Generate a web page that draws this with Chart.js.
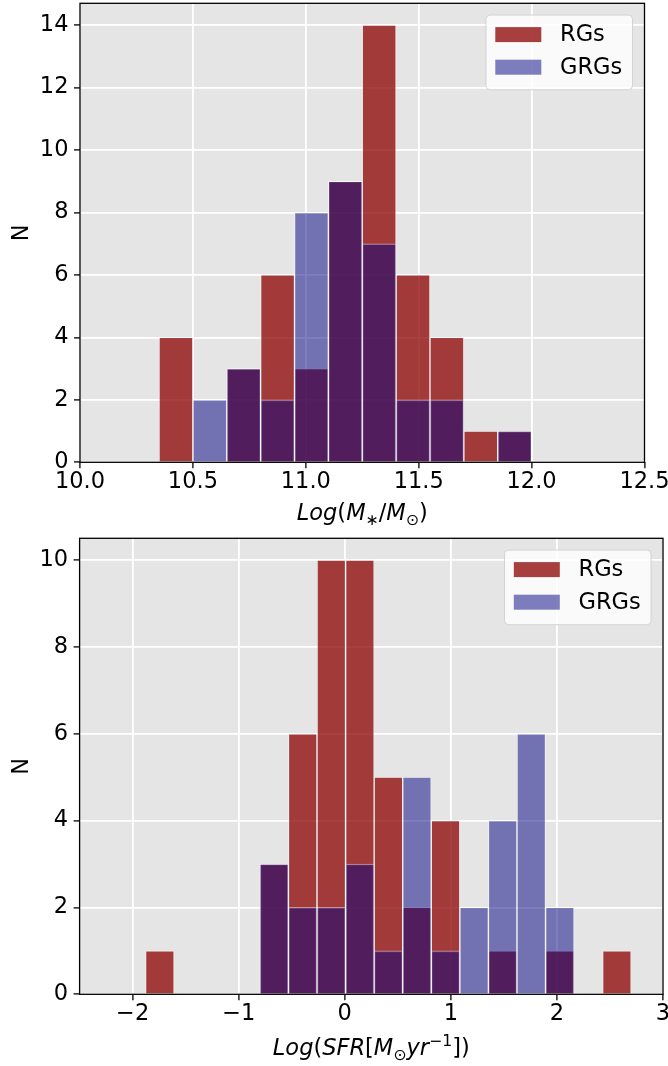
<!DOCTYPE html>
<html><head><meta charset="utf-8">
<script src="https://cdn.jsdelivr.net/npm/chart.js@4/dist/chart.umd.min.js"></script>
<style>
html,body{margin:0;padding:0;background:#fff;width:668px;height:1066px;overflow:hidden}
.wrap{position:absolute;left:0;width:668px}
canvas{display:block}
</style></head><body>
<div class="wrap" style="top:0;height:525px"><canvas id="c1" width="668" height="525"></canvas></div>
<div class="wrap" style="top:525px;height:541px"><canvas id="c2" width="668" height="541"></canvas></div>
<script>
// ---------- data ----------
const seriesNames = ['RGs', 'GRGs'];

const massBinEdges = [10.35, 10.50, 10.65, 10.80, 10.95, 11.10, 11.25, 11.40, 11.55, 11.70, 11.85, 12.00];
const massRGs  = [4, 0, 3, 6, 3, 9, 14, 6, 4, 1, 1];
const massGRGs = [0, 2, 3, 2, 8, 9, 7, 2, 2, 0, 1];
const massXTicks = [10.0, 10.5, 11.0, 11.5, 12.0, 12.5];
const massYTicks = [0, 2, 4, 6, 8, 10, 12, 14];

const sfrBinEdges = [-1.878, -1.609, -1.339, -1.070, -0.801, -0.531, -0.262, 0.008, 0.277,
                     0.546, 0.815, 1.085, 1.354, 1.623, 1.893, 2.162, 2.431, 2.700];
const sfrRGs  = [1, 0, 0, 0, 3, 6, 10, 10, 5, 2, 4, 0, 1, 0, 1, 0, 1];
const sfrGRGs = [0, 0, 0, 0, 3, 2, 2, 3, 1, 5, 1, 2, 4, 6, 2, 0, 0];
const sfrXTicks = [-2, -1, 0, 1, 2, 3];
const sfrYTicks = [0, 2, 4, 6, 8, 10];

const massLabel = [
  {t:'Log', i:1}, {t:'('}, {t:'M', i:1}, {t:'\u2217', sub:1}, {t:'/'}, {t:'M', i:1}, {t:'\u2299', sub:1}, {t:')'}
];
const sfrLabel = [
  {t:'Log', i:1}, {t:'('}, {t:'SFR', i:1}, {t:'['}, {t:'M', i:1}, {t:'\u2299', sub:1},
  {t:'yr', i:1}, {t:'\u22121', sup:1}, {t:']'}, {t:')'}
];

// ---------- styling ----------
const FONT = "'DejaVu Sans', sans-serif";
const FS = 22.5;
const RED = 'rgba(139,0,0,0.75)';
const BLUE = 'rgba(0,0,128,0.5)';

function histData(edges, counts) {
  return counts.map((c, k) => ({x: (edges[k] + edges[k + 1]) / 2, y: c === 0 ? null : c}));
}

const decorPlugin = {
  id: 'decor',
  beforeDraw(chart) {
    const {ctx, chartArea: a} = chart;
    ctx.save();
    ctx.fillStyle = '#e5e5e5';
    ctx.fillRect(a.left, a.top, a.right - a.left, a.bottom - a.top);
    ctx.restore();
  },
  afterDraw(chart, args, opts) {
    const {ctx, chartArea: a} = chart;
    ctx.save();
    // frame
    ctx.strokeStyle = '#000';
    ctx.lineWidth = 1.3;
    ctx.strokeRect(a.left, a.top, a.right - a.left, a.bottom - a.top);
    // legend
    const bw = 146.5, bh = 74.6;
    const bx = a.right - 12 - bw, by = a.top + 11.8;
    const r = 4;
    ctx.beginPath();
    ctx.moveTo(bx + r, by);
    ctx.arcTo(bx + bw, by, bx + bw, by + bh, r);
    ctx.arcTo(bx + bw, by + bh, bx, by + bh, r);
    ctx.arcTo(bx, by + bh, bx, by, r);
    ctx.arcTo(bx, by, bx + bw, by, r);
    ctx.closePath();
    ctx.fillStyle = 'rgba(255,255,255,0.8)';
    ctx.fill();
    ctx.strokeStyle = 'rgba(204,204,204,0.8)';
    ctx.lineWidth = 1;
    ctx.stroke();
    const ds = chart.data.datasets;
    seriesNames.forEach((name, row) => {
      const d = ds.find(q => q.label === name);
      const py = by + 12 + row * 32.6;
      ctx.fillStyle = d.backgroundColor;
      ctx.fillRect(bx + 9.3, py, 46, 15);
      ctx.fillStyle = '#000';
      ctx.font = FS + 'px ' + FONT;
      ctx.textAlign = 'left';
      ctx.textBaseline = 'middle';
      ctx.fillText(d.label, bx + 74, py + 8);
    });
    // x-axis label (math text)
    const segs = opts.xLabel;
    const sm = 0.7;
    const fontFor = s => (s.i ? 'italic ' : '') + ((s.sub || s.sup) ? FS * sm : FS) + 'px ' + FONT;
    let total = 0;
    const widths = segs.map(s => { ctx.font = fontFor(s); const w = ctx.measureText(s.t).width; total += w; return w; });
    let x = (a.left + a.right) / 2 - total / 2;
    const base = opts.xLabelBaseline;
    ctx.fillStyle = '#000';
    ctx.textAlign = 'left';
    ctx.textBaseline = 'alphabetic';
    segs.forEach((s, k) => {
      ctx.font = fontFor(s);
      let y = base;
      if (s.sub) y += FS * 0.2;
      if (s.sup) y -= FS * 0.4;
      ctx.fillText(s.t, x, y);
      x += widths[k];
    });
    ctx.restore();
  }
};

function makeChart(canvasId, edges, rg, grg, xTicks, yTicks, xmin, xmax, ymax, geom, xLabel, fmt) {
  return new Chart(document.getElementById(canvasId), {
    type: 'bar',
    data: {
      datasets: [
        {label: seriesNames[0], data: histData(edges, rg), backgroundColor: RED,
         borderColor: 'rgba(255,255,255,0.45)', borderWidth: 1, order: 2},
        {label: seriesNames[1], data: histData(edges, grg), backgroundColor: BLUE,
         borderColor: 'rgba(255,255,255,0.45)', borderWidth: 1, order: 1}
      ]
    },
    plugins: [decorPlugin],
    options: {
      responsive: false,
      animation: false,
      devicePixelRatio: 1,
      layout: {autoPadding: false, padding: {top: geom.top, left: 0, right: geom.right, bottom: 0}},
      datasets: {bar: {grouped: false, barPercentage: 1, categoryPercentage: 1}},
      plugins: {
        legend: {display: false},
        tooltip: {enabled: false},
        decor: {xLabel: xLabel, xLabelBaseline: geom.xLabelBaseline}
      },
      scales: {
        x: {
          type: 'linear', min: xmin, max: xmax, offset: false,
          afterBuildTicks: s => { s.ticks = xTicks.map(v => ({value: v})); },
          afterFit: s => { s.height = geom.xAxisH; s.paddingLeft = 0; s.paddingRight = 0; },
          grid: {offset: false, color: '#ffffff', lineWidth: 1.8, tickColor: '#000', tickLength: 6, tickWidth: 1.3, drawTicks: true},
          border: {display: false},
          ticks: {color: '#000', font: {family: FONT, size: FS}, padding: 0.5, maxRotation: 0, autoSkip: false,
                  callback: v => fmt(v)}
        },
        y: {
          type: 'linear', min: 0, max: ymax,
          afterBuildTicks: s => { s.ticks = yTicks.map(v => ({value: v})); },
          afterFit: s => { s.width = geom.yAxisW; s.paddingTop = 0; s.paddingBottom = 0; },
          grid: {offset: false, color: '#ffffff', lineWidth: 1.8, tickColor: '#000', tickLength: 6, tickWidth: 1.3},
          border: {display: false},
          title: {display: true, text: 'N', color: '#000', font: {family: FONT, size: FS}, padding: {top: 8.5, bottom: 0}},
          ticks: {color: '#000', font: {family: FONT, size: FS}, padding: 5.5, autoSkip: false,
                  callback: v => String(v)}
        }
      }
    }
  });
}

makeChart('c1', massBinEdges, massRGs, massGRGs, massXTicks, massYTicks, 10.0, 12.5, 14.7,
  {top: 3.3, right: 23.5, xAxisH: 62.7, yAxisW: 80, xLabelBaseline: 520},
  massLabel, v => v.toFixed(1));

makeChart('c2', sfrBinEdges, sfrRGs, sfrGRGs, sfrXTicks, sfrYTicks, -2.5, 3, 10.5,
  {top: 13.3, right: 5, xAxisH: 71.7, yAxisW: 79.6, xLabelBaseline: 530},
  sfrLabel, v => (v < 0 ? '\u2212' + Math.abs(v) : String(v)));
</script>
</body></html>
